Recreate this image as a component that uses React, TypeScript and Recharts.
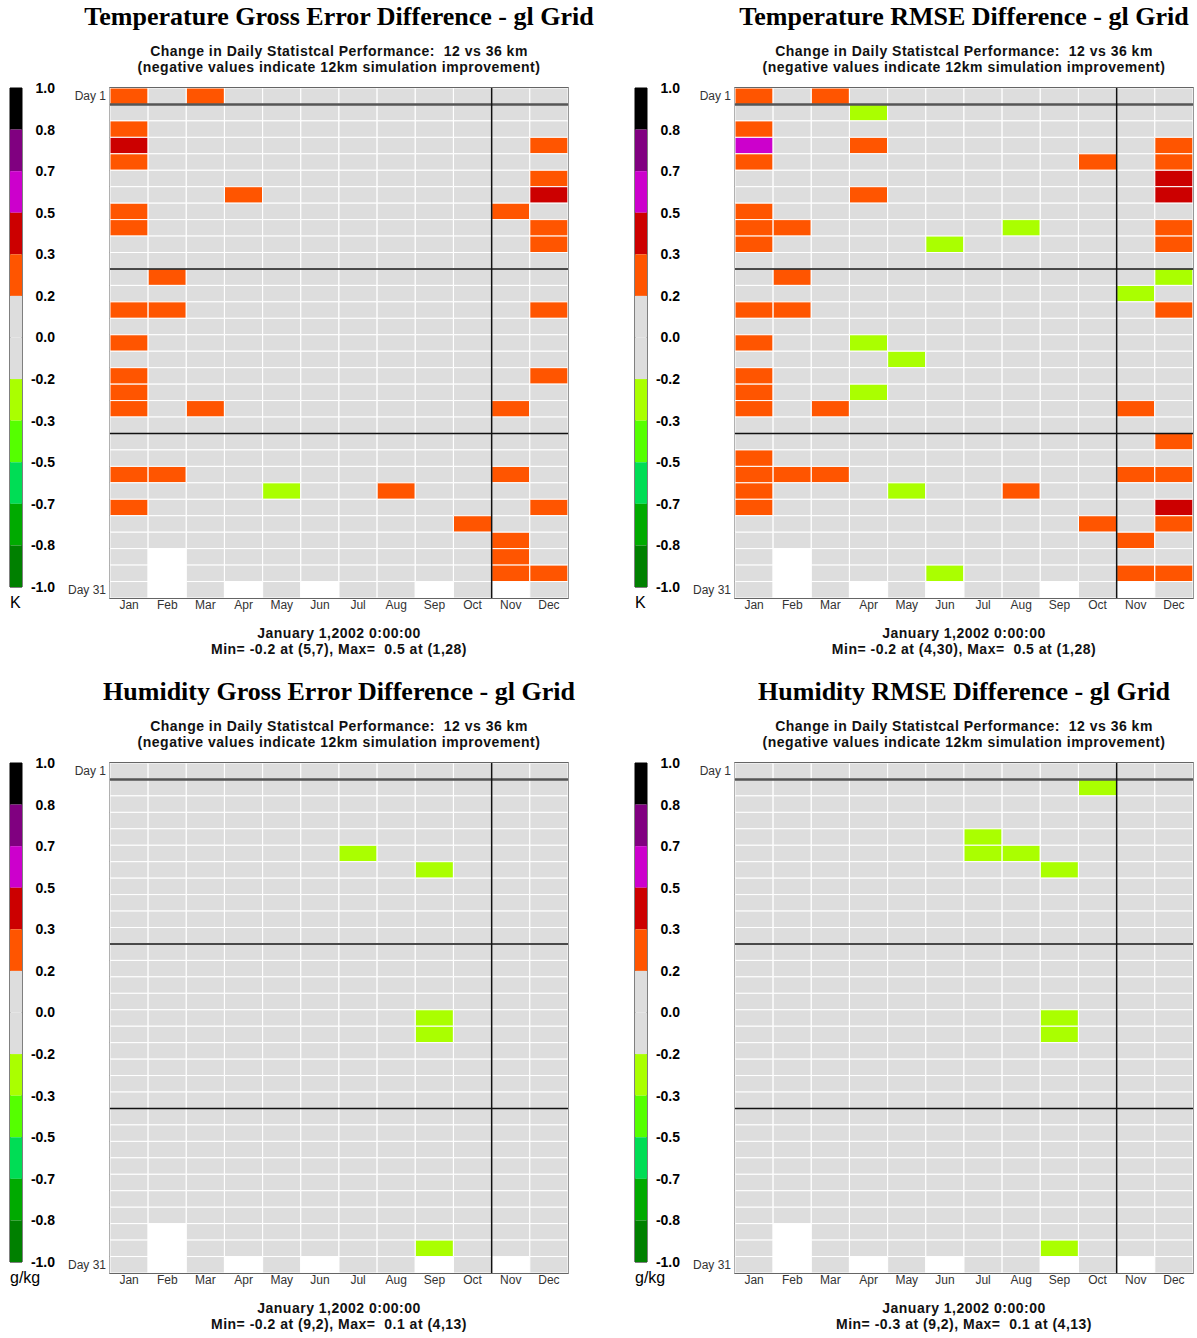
import { BarChart, Bar, Cell, XAxis, YAxis, ReferenceLine, ReferenceArea } from 'recharts'

// months of 2002 and their lengths (days past the end are drawn white)
const MONTHS = ['Jan', 'Feb', 'Mar', 'Apr', 'May', 'Jun', 'Jul', 'Aug', 'Sep', 'Oct', 'Nov', 'Dec']
const MONTH_DAYS = [31, 28, 31, 30, 31, 30, 31, 31, 30, 31, 30, 31]
const DAYS = Array.from({ length: 31 }, (_, i) => i + 1)

// colour scale, top to bottom
const SCALE_LABELS = ['1.0', '0.8', '0.7', '0.5', '0.3', '0.2', '0.0', '-0.2', '-0.3', '-0.5', '-0.7', '-0.8', '-1.0']
const SCALE_BOUNDS = [1.0, 0.8, 0.7, 0.5, 0.3, 0.2, 0.0, -0.2, -0.3, -0.5, -0.7, -0.8, -1.0]
const SCALE_COLORS = [
  '#000000', '#800080', '#cc00cc', '#cc0000', '#ff5500', '#dddddd',
  '#dddddd', '#aaff00', '#55ff00', '#00dd55', '#00aa00', '#008000',
]

// [month, day, difference] — every cell not listed is ~0
type CellValue = [number, number, number]

const TEMP_GROSS: CellValue[] = [
  [1, 1, 0.25], [3, 1, 0.25],
  [1, 3, 0.25],
  [1, 4, 0.4], [12, 4, 0.25],
  [1, 5, 0.25],
  [12, 6, 0.25],
  [4, 7, 0.25], [12, 7, 0.4],
  [1, 8, 0.25], [11, 8, 0.25],
  [1, 9, 0.25], [12, 9, 0.25],
  [12, 10, 0.25],
  [2, 12, 0.25],
  [1, 14, 0.25], [2, 14, 0.25], [12, 14, 0.25],
  [1, 16, 0.25],
  [1, 18, 0.25], [12, 18, 0.25],
  [1, 19, 0.25],
  [1, 20, 0.25], [3, 20, 0.25], [11, 20, 0.25],
  [1, 24, 0.25], [2, 24, 0.25], [11, 24, 0.25],
  [5, 25, -0.25], [8, 25, 0.25],
  [1, 26, 0.25], [12, 26, 0.25],
  [10, 27, 0.25],
  [11, 28, 0.25],
  [11, 29, 0.25],
  [11, 30, 0.25], [12, 30, 0.25],
]

const TEMP_RMSE: CellValue[] = [
  [1, 1, 0.25], [3, 1, 0.25],
  [4, 2, -0.25],
  [1, 3, 0.25],
  [1, 4, 0.6], [4, 4, 0.25], [12, 4, 0.25],
  [1, 5, 0.25], [10, 5, 0.25], [12, 5, 0.25],
  [12, 6, 0.4],
  [4, 7, 0.25], [12, 7, 0.4],
  [1, 8, 0.25],
  [1, 9, 0.25], [2, 9, 0.25], [8, 9, -0.25], [12, 9, 0.25],
  [1, 10, 0.25], [6, 10, -0.25], [12, 10, 0.25],
  [2, 12, 0.25], [12, 12, -0.25],
  [11, 13, -0.25],
  [1, 14, 0.25], [2, 14, 0.25], [12, 14, 0.25],
  [1, 16, 0.25], [4, 16, -0.25],
  [5, 17, -0.25],
  [1, 18, 0.25],
  [1, 19, 0.25], [4, 19, -0.25],
  [1, 20, 0.25], [3, 20, 0.25], [11, 20, 0.25],
  [12, 22, 0.25],
  [1, 23, 0.25],
  [1, 24, 0.25], [2, 24, 0.25], [3, 24, 0.25], [11, 24, 0.25], [12, 24, 0.25],
  [1, 25, 0.25], [5, 25, -0.25], [8, 25, 0.25],
  [1, 26, 0.25], [12, 26, 0.4],
  [10, 27, 0.25], [12, 27, 0.25],
  [11, 28, 0.25],
  [6, 30, -0.25], [11, 30, 0.25], [12, 30, 0.25],
]

const HUM_GROSS: CellValue[] = [
  [7, 6, -0.25], [9, 7, -0.25], [9, 16, -0.25], [9, 17, -0.25], [9, 30, -0.25],
]

const HUM_RMSE: CellValue[] = [
  [10, 2, -0.25], [7, 5, -0.25], [7, 6, -0.25], [8, 6, -0.25], [9, 7, -0.25],
  [9, 16, -0.25], [9, 17, -0.25], [9, 30, -0.25],
]

const SUBTITLE = ['Change in Daily Statistcal Performance:  12 vs 36 km', '(negative values indicate 12km simulation improvement)']
const DATE_LINE = 'January 1,2002 0:00:00'

const SANS = '"Liberation Sans", Arial, Helvetica, sans-serif'
const SERIF = '"Liberation Serif", "Times New Roman", serif'
const NOTE_FONT = `bold 14px ${SANS}`

function colorFor(v: number) {
  for (let i = 0; i < SCALE_COLORS.length; i++) {
    if (v >= SCALE_BOUNDS[i + 1]) return SCALE_COLORS[i]
  }
  return SCALE_COLORS[SCALE_COLORS.length - 1]
}

function ColorBar({ x, y, unit }: { x: number; y: number; unit: string }) {
  const data = [Object.fromEntries(SCALE_COLORS.map((_, i) => [`s${i}`, 1]))]
  return (
    <>
      <div style={{ position: 'absolute', left: x, top: y + 80, fontFamily: SANS }}>
        <BarChart width={70} height={515} data={data} margin={{ top: 8, right: 0, left: 10, bottom: 8 }} barCategoryGap={0}>
          <XAxis hide />
          <YAxis
            orientation="right"
            type="number"
            domain={[0, 12]}
            reversed
            ticks={SCALE_LABELS.map((_, i) => i)}
            tickFormatter={(v: number) => SCALE_LABELS[v]}
            interval={0}
            width={48}
            axisLine={false}
            tickLine={false}
            tickSize={0}
            tickMargin={33}
            tick={{ fontSize: 14, fill: '#000', fontWeight: 'bold', textAnchor: 'end', fontFamily: SANS }}
          />
          {SCALE_COLORS.map((c, i) => (
            <Bar key={c + i} dataKey={`s${i}`} stackId="c" fill={c} isAnimationActive={false} />
          ))}
          <ReferenceArea y1={0} y2={12} fill="none" stroke="#000" strokeWidth={1} />
        </BarChart>
      </div>
      <div style={{ position: 'absolute', left: x + 10, top: y + 594, font: `16px ${SANS}`, color: '#000' }}>{unit}</div>
    </>
  )
}

function Panel({ x, y, title, minMax, unit, cells }: { x: number; y: number; title: string; minMax: string; unit: string; cells: CellValue[] }) {
  const lookup = new Map(cells.map(([m, d, v]) => [`${m}-${d}`, v]))
  const data = MONTHS.map((month) => {
    const row: Record<string, string | number> = { month }
    DAYS.forEach((d) => { row[`d${d}`] = 1 })
    return row
  })

  const note = { position: 'absolute' as const, left: x + 39, width: 600, textAlign: 'center' as const, font: NOTE_FONT, lineHeight: '16px', whiteSpace: 'pre' as const, color: '#111', letterSpacing: '0.5px' }

  return (
    <>
      <div style={{ position: 'absolute', left: x + 39, top: y + 2, width: 600, textAlign: 'center', font: `bold 26px ${SERIF}`, lineHeight: '30px' }}>
        {title}
      </div>
      <div style={{ ...note, top: y + 43 }}>{SUBTITLE.join('\n')}</div>
      <ColorBar x={x} y={y} unit={unit} />
      <div style={{ position: 'absolute', left: x + 60, top: y + 80, fontFamily: SANS }}>
        <BarChart width={510} height={540} data={data} margin={{ top: 8, right: 2, left: 0, bottom: 2 }} barCategoryGap={0}>
          <XAxis dataKey="month" interval={0} axisLine={false} tickLine={false} tickSize={0} tickMargin={2} height={20} tick={{ fontSize: 12, fill: '#333' }} />
          <YAxis
            type="number"
            domain={[0, 31]}
            reversed
            allowDataOverflow
            ticks={[0.5, 30.5]}
            tickFormatter={(v: number) => `Day ${Math.round(v + 0.5)}`}
            width={50}
            axisLine={false}
            tickLine={false}
            tickSize={0}
            tickMargin={4}
            tick={{ fontSize: 12, fill: '#333' }}
          />
          {DAYS.map((d) => (
            <Bar key={d} dataKey={`d${d}`} stackId="days" isAnimationActive={false} stroke="#ffffff" strokeWidth={1}>
              {MONTHS.map((m, mi) => (
                <Cell key={m} fill={d > MONTH_DAYS[mi] ? '#ffffff' : colorFor(lookup.get(`${mi + 1}-${d}`) ?? 0)} />
              ))}
            </Bar>
          ))}
          <ReferenceLine y={1} stroke="#555" strokeWidth={2.5} />
          <ReferenceLine y={11} stroke="#111" strokeWidth={1.5} />
          <ReferenceLine y={21} stroke="#111" strokeWidth={1.5} />
          <ReferenceLine x="Nov" position="start" stroke="#111" strokeWidth={1.5} />
          <ReferenceArea y1={0} y2={31} fill="none" stroke="#333" strokeWidth={1.5} />
        </BarChart>
      </div>
      <div style={{ ...note, top: y + 625 }}>{`${DATE_LINE}\n${minMax}`}</div>
    </>
  )
}

export default function App() {
  return (
    <div style={{ position: 'absolute', left: 0, top: 0, width: 1197, height: 1338, background: '#fff', overflow: 'hidden' }}>
      <Panel x={0} y={0} title="Temperature Gross Error Difference - gl Grid" minMax="Min= -0.2 at (5,7), Max=  0.5 at (1,28)" unit="K" cells={TEMP_GROSS} />
      <Panel x={625} y={0} title="Temperature RMSE Difference - gl Grid" minMax="Min= -0.2 at (4,30), Max=  0.5 at (1,28)" unit="K" cells={TEMP_RMSE} />
      <Panel x={0} y={675} title="Humidity Gross Error Difference - gl Grid" minMax="Min= -0.2 at (9,2), Max=  0.1 at (4,13)" unit="g/kg" cells={HUM_GROSS} />
      <Panel x={625} y={675} title="Humidity RMSE Difference - gl Grid" minMax="Min= -0.3 at (9,2), Max=  0.1 at (4,13)" unit="g/kg" cells={HUM_RMSE} />
    </div>
  )
}
